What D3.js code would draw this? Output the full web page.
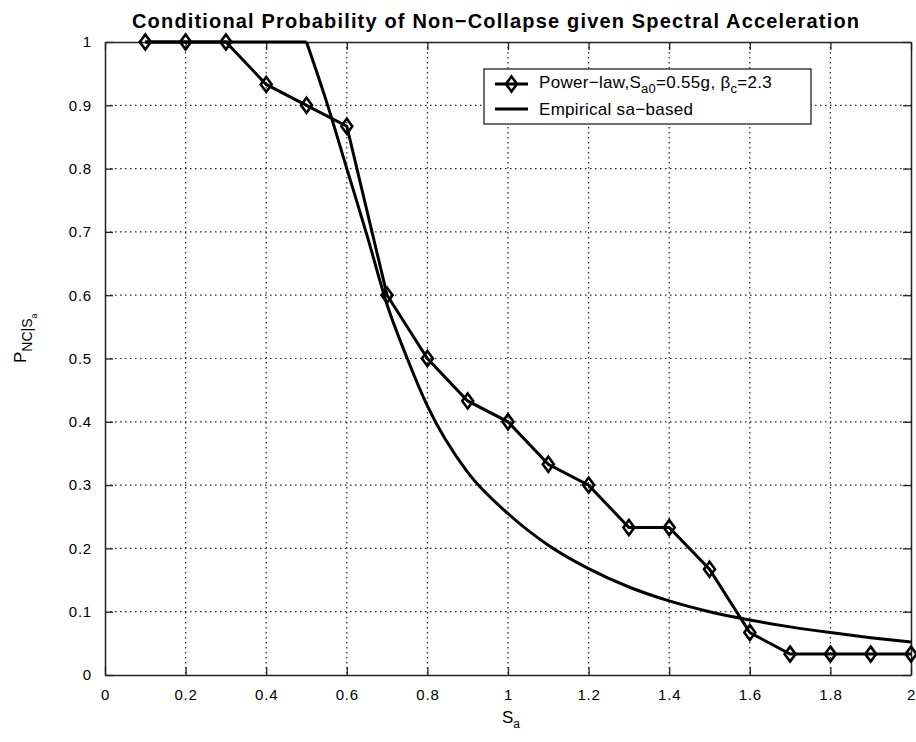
<!DOCTYPE html>
<html>
<head>
<meta charset="utf-8">
<script src="https://cdn.jsdelivr.net/npm/d3@7"></script>
<style>
  body { margin: 0; background: #fff; }
  text { font-family: "Liberation Sans", Arial, sans-serif; fill: #000; }
</style>
</head>
<body>
<script>
// Chart data
const xTicks = [0, 0.2, 0.4, 0.6, 0.8, 1, 1.2, 1.4, 1.6, 1.8, 2];
const yTicks = [0, 0.1, 0.2, 0.3, 0.4, 0.5, 0.6, 0.7, 0.8, 0.9, 1];

// Power-law series (diamond markers)
const powerSa = [0.1, 0.2, 0.3, 0.4, 0.5, 0.6, 0.7, 0.8, 0.9, 1.0,
                 1.1, 1.2, 1.3, 1.4, 1.5, 1.6, 1.7, 1.8, 1.9, 2.0];
const powerP  = [1, 1, 1, 0.933, 0.9, 0.867, 0.6, 0.5, 0.433, 0.4,
                 0.333, 0.3, 0.233, 0.233, 0.167, 0.067, 0.033, 0.033, 0.033, 0.033];

// Empirical sa-based curve: flat part, then the falling part
const empFlatSa = [0.1, 0.5];
const empFlatP  = [1, 1];
const empSa = [0.5, 0.55, 0.6, 0.65, 0.7, 0.75, 0.8, 0.9, 1.0,
               1.1, 1.2, 1.3, 1.4, 1.5, 1.6, 1.7, 1.8, 1.9, 2.0];
const empP  = [1, 0.905, 0.80, 0.695, 0.585, 0.50, 0.425, 0.32, 0.255,
               0.205, 0.168, 0.139, 0.117, 0.100, 0.087, 0.076, 0.067, 0.059, 0.052];

const W = 916, H = 742;
const margin = {top: 42, right: 5, bottom: 67, left: 105};
const width = W - margin.left - margin.right,
      height = H - margin.top - margin.bottom;

const svg = d3.select("body").append("svg")
    .attr("width", W)
    .attr("height", H);

const g = svg.append("g")
    .attr("transform", "translate(" + margin.left + "," + margin.top + ")");

const x = d3.scaleLinear().domain([0, 2]).range([0, width]);
const y = d3.scaleLinear().domain([0, 1]).range([height, 0]);

// Grid
g.append("g").selectAll("line")
    .data(xTicks.slice(1, -1))
    .join("line")
    .attr("x1", d => x(d)).attr("x2", d => x(d))
    .attr("y1", 0).attr("y2", height)
    .attr("stroke", "#222").attr("stroke-width", 1.2)
    .attr("stroke-dasharray", "1.5,3.5");
g.append("g").selectAll("line")
    .data(yTicks.slice(1, -1))
    .join("line")
    .attr("y1", d => y(d)).attr("y2", d => y(d))
    .attr("x1", 0).attr("x2", width)
    .attr("stroke", "#222").attr("stroke-width", 1.2)
    .attr("stroke-dasharray", "1.5,3.5");

// Axes with inward ticks on all four sides
const fmt = d => String(d);
g.append("g")
    .attr("transform", "translate(0," + height + ")")
    .call(d3.axisBottom(x).tickValues(xTicks).tickFormat(fmt).tickSizeInner(-8).tickSizeOuter(0).tickPadding(14));
g.append("g")
    .call(d3.axisTop(x).tickValues(xTicks).tickFormat("").tickSizeInner(-8).tickSizeOuter(0));
g.append("g")
    .call(d3.axisLeft(y).tickValues(yTicks).tickFormat(fmt).tickSizeInner(-8).tickSizeOuter(0).tickPadding(13));
g.append("g")
    .attr("transform", "translate(" + width + ",0)")
    .call(d3.axisRight(y).tickValues(yTicks).tickFormat("").tickSizeInner(-8).tickSizeOuter(0));

g.selectAll(".domain").attr("stroke", "#222").attr("stroke-width", 1.5);
g.selectAll(".tick line").attr("stroke", "#222").attr("stroke-width", 1.3);
g.selectAll(".tick text").attr("font-size", 15)
    .style("letter-spacing", "0.8px")
    .style("font-family", "'Liberation Sans', Arial, sans-serif");

// Lines
const line = d3.line().x(d => x(d[0])).y(d => y(d[1]));
const flatData = empFlatSa.map((s, i) => [s, empFlatP[i]]);
const empData = empSa.map((s, i) => [s, empP[i]]);
const powData = powerSa.map((s, i) => [s, powerP[i]]);

g.append("path").datum(flatData)
    .attr("d", line)
    .attr("fill", "none").attr("stroke", "#000").attr("stroke-width", 3);
g.append("path").datum(empData)
    .attr("d", d3.line().x(d => x(d[0])).y(d => y(d[1])).curve(d3.curveMonotoneX))
    .attr("fill", "none").attr("stroke", "#000").attr("stroke-width", 3);

g.append("path").datum(powData)
    .attr("d", line)
    .attr("fill", "none").attr("stroke", "#000").attr("stroke-width", 3);

const diamond = "M0,-7.5L5.5,0L0,7.5L-5.5,0Z";
g.append("g").selectAll("path")
    .data(powData)
    .join("path")
    .attr("transform", d => "translate(" + x(d[0]) + "," + y(d[1]) + ")")
    .attr("d", diamond)
    .attr("fill", "none").attr("stroke", "#000").attr("stroke-width", 2.6);

// Title
svg.append("text")
    .attr("x", 132).attr("y", 28)
    .attr("font-size", 20).attr("font-weight", "bold")
    .attr("textLength", 727).attr("lengthAdjust", "spacing")
    .text("Conditional Probability of Non\u2212Collapse given Spectral Acceleration");

// x label
const xl = svg.append("text")
    .attr("x", margin.left + width / 2 - 6).attr("y", 723)
    .attr("font-size", 17);
xl.append("tspan").text("S");
xl.append("tspan").attr("font-size", 12).attr("dy", 5).text("a");

// y label
const yl = svg.append("text")
    .attr("transform", "translate(26,363) rotate(-90)")
    .attr("font-size", 17);
yl.append("tspan").text("P");
yl.append("tspan").attr("font-size", 14).attr("dy", 6).text("NC|S");
yl.append("tspan").attr("font-size", 9).attr("dy", 5).text("a");

// Legend
const lg = svg.append("g").attr("transform", "translate(484,69)");
lg.append("rect")
    .attr("width", 327).attr("height", 55)
    .attr("fill", "#fff").attr("stroke", "#222").attr("stroke-width", 1.3);

lg.append("line").attr("x1", 11).attr("x2", 44).attr("y1", 15).attr("y2", 15)
    .attr("stroke", "#000").attr("stroke-width", 3);
lg.append("path").attr("transform", "translate(27.5,15)").attr("d", diamond)
    .attr("fill", "none").attr("stroke", "#000").attr("stroke-width", 2.6);
const t1 = lg.append("text").attr("x", 55).attr("y", 19).attr("font-size", 17)
    .style("letter-spacing", "0.3px");
t1.append("tspan").text("Power\u2212law,S");
t1.append("tspan").attr("font-size", 13).attr("dy", 5).text("a0");
t1.append("tspan").attr("dy", -5).text("=0.55g, \u03b2");
t1.append("tspan").attr("font-size", 13).attr("dy", 5).text("c");
t1.append("tspan").attr("dy", -5).text("=2.3");

lg.append("line").attr("x1", 11).attr("x2", 44).attr("y1", 40).attr("y2", 40)
    .attr("stroke", "#000").attr("stroke-width", 3);
lg.append("text").attr("x", 55).attr("y", 46).attr("font-size", 17)
    .style("letter-spacing", "0.3px")
    .text("Empirical sa\u2212based");
</script>
</body>
</html>
